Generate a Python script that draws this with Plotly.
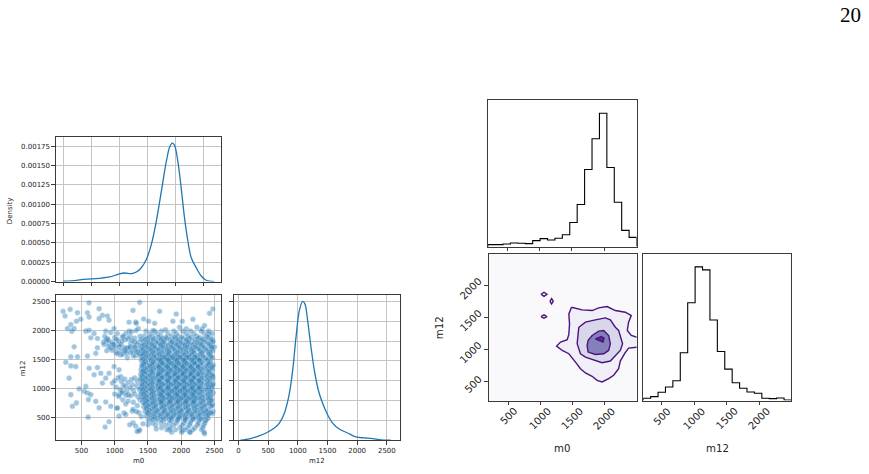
import numpy as np
import plotly.graph_objects as go

# ------------------------------------------------------------------ data
# KDE of m0 (pairplot diagonal, top-left)
kde_m0_x = [0, 237, 355, 504, 652, 829, 977, 1096, 1214, 1303, 1392, 1481, 1570, 1659,
            1748, 1836, 1896, 1943, 1985, 2044, 2103, 2162, 2222, 2281, 2370, 2459, 2547, 2695]
kde_m0_y = [0.0000043, 0.0000171, 0.0000299, 0.0000341, 0.0000427, 0.0000598, 0.0000939,
            0.000111, 0.0001024, 0.0001238, 0.0001793, 0.000286, 0.000478, 0.000777,
            0.001161, 0.001545, 0.001737, 0.001788, 0.001759, 0.001545, 0.001204, 0.000820,
            0.000521, 0.000307, 0.000179, 0.0000726, 0.0000171, 0.0]

# KDE of m12 (pairplot diagonal, bottom-right)
kde_m12_x = [34, 185, 325, 465, 605, 689, 774, 858, 914, 970, 1026, 1082, 1121, 1166, 1222,
             1278, 1345, 1418, 1502, 1586, 1698, 1839, 1979, 2119, 2259, 2399, 2567]
kde_m12_y = [0.0, 0.0000133, 0.00004, 0.0000733, 0.000123, 0.000173, 0.000273, 0.000473,
             0.000707, 0.00104, 0.001307, 0.0014, 0.001373, 0.001207, 0.00094, 0.000707,
             0.000507, 0.000373, 0.000257, 0.000173, 0.000113, 0.0000733, 0.0000333,
             0.0000233, 0.0000167, 0.0000033, 0.0]

# scatter m0 vs m12 : scattered points
sparse_m0 = [614, 224, 330, 254, 440, 489, 424, 590, 615, 765, 815, 890, 915, 765, 340, 290, 390,
             354, 565, 615, 690, 740, 640, 865, 940, 990, 1040, 890, 915, 990, 1065, 1115, 1165,
             1215, 1275, 1315, 1355, 1140, 1215, 1290, 1090, 1190, 1315, 1390, 740, 715, 590,
             390, 340, 440, 264, 340, 314, 414, 615, 740, 790, 690, 865, 915, 990, 1065, 1090,
             965, 815, 565, 465, 540, 590, 640, 340, 364, 424, 715, 604, 765, 865, 940, 600,
             915, 855, 1065, 1115, 1165, 1265, 1205, 1040, 1140, 1265, 1365, 1065, 1165, 1365,
             1275, 1315, 1415,
             830, 870, 905, 960, 1010, 1050, 1100, 1130, 1160, 1190, 1240, 1270, 1300, 1330,
             1350, 1000, 1080, 1230, 1180, 1120, 1280, 1350, 1390, 1380, 1020, 960, 880, 850,
             1250, 1320,
             840, 900, 940, 980, 1030, 1070, 1110, 1150, 1200, 1230, 1260, 1300, 1320, 1360,
             1400, 1040, 1160, 1240, 1300, 1370,
             1000, 1050, 1100, 1150, 1200, 1250, 1300, 1340, 1380, 1020, 1080, 1130, 1180, 1230,
             1280, 1330, 1370, 1000, 1060, 1110, 1170, 1240, 1300, 1350, 1390, 1120, 1200, 1280,
             1340, 1380,
             1375, 1215, 1325, 1435, 1510, 1600, 1675, 1875, 1925, 2015, 2175, 2425, 2475, 1765,
             1575, 2350, 2315, 2235, 2075, 1975, 2415, 2500,
             2475, 2465, 2435, 2415, 2375, 2350, 2125, 2015, 1825, 1625, 1500, 1425, 1375, 1035,
             1165, 1275, 1325, 1400, 1225, 1335]
sparse_m12 = [2482, 2333, 2367, 2253, 2310, 2196, 2161, 2310, 2236, 2379, 2264, 2253, 2178, 2207,
              2104, 2035, 2035, 1990, 1990, 2007, 1950, 1864, 1875, 1990, 1967, 2035, 1950, 1864,
              1778, 1749, 1761, 1892, 1950, 1990, 2350, 2150, 2035, 1663, 1692, 1703, 1577, 1531,
              1566, 1548, 1703, 1606, 1560, 1720, 1548, 1548, 1451, 1388, 1176, 1377, 1348, 1360,
              1262, 1234, 1176, 1262, 1377, 1320, 1205, 1090, 1090, 1033, 993, 947, 919, 890, 890,
              690, 747, 775, 804, 661, 764, 690, 500, 420, 329, 890, 947, 1033, 1062, 890, 661,
              575, 603, 575, 518, 546, 260, 403, 346, 1291,
              1800, 1830, 1720, 1800, 1700, 1820, 1760, 1900, 1840, 1700, 1780, 1640, 1870, 1760,
              1680, 1880, 1650, 1900, 1610, 1590, 1560, 1620, 1730, 1900, 1620, 1660, 1650, 1900,
              1980, 2000,
              1760, 1840, 1700, 1760, 1850, 1720, 1820, 1700, 1860, 1720, 1830, 1720, 1640, 1800,
              1850, 1600, 1640, 1620, 1800, 1600,
              1130, 1180, 1120, 1160, 1100, 1150, 1180, 1120, 1160, 1020, 980, 1050, 950, 1010,
              960, 1040, 980, 900, 860, 920, 880, 870, 900, 850, 900, 800, 780, 760, 700, 800,
              2489, 2145, 2128, 2202, 2162, 2128, 2334, 2162, 2288, 2162, 2196, 2299, 2374, 2013,
              2001, 2087, 2030, 2059, 2030, 2059, 1944, 1715,
              1199, 1027, 798, 569, 454, 214, 242, 271, 283, 294, 368, 386, 283, 655, 729, 638,
              598, 512, 368, 254]

# scatter m0 vs m12 : the dense cluster, one list of m0 values per m12 row
cluster_m12 = [1990, 1948, 1905, 1862, 1818, 1776, 1735, 1692, 1650, 1608, 1566, 1524, 1483,
               1441, 1402, 1358, 1321, 1279, 1238, 1197, 1160, 1118, 1079, 1042, 998, 960, 921,
               879, 842, 801, 763, 719, 682, 641, 598, 561, 519, 482, 441, 399, 362, 318, 281, 239]
cluster_m0 = [
    [1470, 1600, 1705, 1890, 2020, 2140, 2300, 2410],
    [1530, 1640, 1800, 1925, 2070, 2190, 2345, 2465],
    [1445, 1570, 1690, 1850, 1955, 2105, 2225, 2390],
    [1490, 1595, 1720, 1785, 1910, 2030, 2115, 2255, 2335, 2455],
    [1425, 1540, 1655, 1750, 1870, 1945, 2070, 2160, 2290, 2385, 2480],
    [1465, 1555, 1650, 1720, 1840, 1915, 2010, 2095, 2200, 2280, 2405],
    [1410, 1505, 1585, 1690, 1765, 1870, 1950, 2050, 2125, 2240, 2315, 2445],
    [1440, 1535, 1615, 1700, 1800, 1875, 1980, 2060, 2170, 2245, 2360, 2460],
    [1400, 1485, 1565, 1645, 1740, 1815, 1910, 1985, 2095, 2175, 2290, 2375, 2475],
    [1435, 1505, 1605, 1675, 1770, 1845, 1935, 2015, 2120, 2195, 2305, 2415],
    [1410, 1495, 1575, 1635, 1725, 1795, 1890, 1955, 2055, 2125, 2240, 2325, 2445],
    [1445, 1525, 1615, 1685, 1780, 1845, 1925, 2005, 2075, 2180, 2255, 2365, 2470],
    [1400, 1465, 1555, 1625, 1715, 1785, 1875, 1945, 2040, 2105, 2210, 2285, 2395],
    [1430, 1515, 1585, 1675, 1735, 1825, 1895, 1990, 2055, 2160, 2235, 2340, 2425],
    [1410, 1485, 1565, 1635, 1725, 1795, 1885, 1955, 2045, 2115, 2215, 2295, 2405, 2480],
    [1445, 1520, 1605, 1675, 1765, 1835, 1925, 1995, 2085, 2155, 2255, 2345, 2455],
    [1395, 1480, 1545, 1635, 1705, 1795, 1865, 1955, 2025, 2115, 2185, 2285, 2375, 2470],
    [1420, 1505, 1575, 1665, 1735, 1825, 1895, 1985, 2055, 2145, 2225, 2325, 2425],
    [1390, 1465, 1535, 1625, 1695, 1785, 1855, 1945, 2015, 2105, 2175, 2275, 2355, 2465],
    [1425, 1495, 1585, 1645, 1735, 1805, 1895, 1965, 2055, 2125, 2215, 2305, 2405],
    [1400, 1475, 1545, 1635, 1705, 1795, 1865, 1955, 2025, 2115, 2185, 2285, 2365, 2475],
    [1435, 1505, 1595, 1665, 1755, 1825, 1915, 1985, 2075, 2145, 2245, 2325, 2435],
    [1400, 1485, 1555, 1645, 1715, 1805, 1875, 1965, 2035, 2125, 2195, 2295, 2385, 2480],
    [1420, 1495, 1585, 1655, 1745, 1815, 1905, 1975, 2065, 2135, 2235, 2315, 2425],
    [1390, 1475, 1545, 1635, 1705, 1795, 1865, 1955, 2025, 2115, 2185, 2285, 2365, 2460],
    [1430, 1515, 1585, 1675, 1745, 1835, 1905, 1995, 2065, 2155, 2235, 2335, 2435],
    [1405, 1475, 1565, 1635, 1725, 1795, 1885, 1955, 2045, 2115, 2205, 2285, 2395, 2480],
    [1445, 1525, 1595, 1685, 1755, 1845, 1915, 2005, 2075, 2165, 2245, 2355, 2450],
    [1410, 1495, 1565, 1655, 1725, 1815, 1885, 1975, 2045, 2135, 2205, 2305, 2400],
    [1455, 1525, 1615, 1685, 1775, 1845, 1935, 2005, 2095, 2165, 2265, 2355, 2460],
    [1420, 1505, 1575, 1665, 1735, 1825, 1895, 1985, 2055, 2145, 2215, 2315, 2415],
    [1465, 1545, 1615, 1705, 1775, 1865, 1935, 2025, 2095, 2185, 2275, 2375, 2470],
    [1435, 1525, 1605, 1705, 1785, 1885, 1965, 2065, 2145, 2245, 2335, 2445],
    [1485, 1565, 1665, 1745, 1845, 1925, 2025, 2105, 2205, 2295, 2405],
    [1455, 1555, 1645, 1745, 1825, 1925, 2005, 2105, 2185, 2295, 2385, 2480],
    [1505, 1595, 1705, 1795, 1895, 1975, 2075, 2155, 2265, 2355, 2465],
    [1475, 1585, 1685, 1795, 1875, 1975, 2055, 2165, 2255, 2385],
    [1535, 1645, 1765, 1855, 1965, 2055, 2175, 2275, 2405],
    [1505, 1625, 1735, 1855, 1945, 2055, 2145, 2265, 2365],
    [1565, 1695, 1825, 1925, 2045, 2135, 2255, 2355],
    [1615, 1765, 1885, 2015, 2125, 2245, 2335],
    [1705, 1835, 1985, 2095, 2205, 2325],
    [1785, 1915, 2055, 2175, 2305],
    [1855, 2005, 2135, 2345],
]
# second pass over the cluster (rows in between the first ones)
cluster2_m12 = [1884, 1840, 1797, 1755, 1714, 1671, 1629, 1587, 1545, 1503, 1462, 1421, 1380,
                1340, 1300, 1258, 1218, 1178, 1138, 1098, 1060, 1020, 979, 940, 900, 860, 821,
                782, 740, 700, 660, 620, 580, 540, 500, 460]
cluster2_m0 = [
    [1520, 1660, 1770, 1900, 2010, 2150, 2270, 2400],
    [1460, 1580, 1700, 1830, 1960, 2080, 2210, 2320, 2450],
    [1500, 1620, 1730, 1860, 1990, 2110, 2240, 2350, 2470],
    [1440, 1560, 1690, 1800, 1930, 2050, 2170, 2300, 2420],
    [1480, 1600, 1730, 1850, 1970, 2090, 2210, 2340, 2460],
    [1420, 1540, 1660, 1790, 1900, 2030, 2150, 2270, 2400],
    [1460, 1580, 1710, 1820, 1950, 2070, 2190, 2320, 2440],
    [1430, 1550, 1670, 1800, 1910, 2040, 2160, 2280, 2410],
    [1470, 1590, 1710, 1840, 1960, 2080, 2200, 2330, 2450],
    [1420, 1540, 1660, 1780, 1900, 2020, 2150, 2270, 2390],
    [1460, 1580, 1700, 1820, 1940, 2060, 2190, 2310, 2440],
    [1440, 1560, 1680, 1800, 1920, 2040, 2160, 2290, 2410],
    [1410, 1530, 1650, 1770, 1890, 2010, 2130, 2250, 2380, 2470],
    [1460, 1580, 1700, 1820, 1940, 2060, 2180, 2310, 2430],
    [1430, 1550, 1670, 1790, 1910, 2030, 2150, 2270, 2400],
    [1450, 1570, 1690, 1810, 1930, 2050, 2170, 2300, 2420],
    [1410, 1530, 1650, 1770, 1890, 2010, 2130, 2250, 2380, 2470],
    [1460, 1580, 1700, 1820, 1940, 2060, 2190, 2310, 2430],
    [1420, 1540, 1660, 1780, 1900, 2020, 2140, 2260, 2390],
    [1450, 1570, 1690, 1810, 1930, 2050, 2170, 2300, 2420],
    [1410, 1530, 1650, 1770, 1890, 2010, 2140, 2260, 2380, 2470],
    [1450, 1570, 1690, 1810, 1930, 2050, 2170, 2290, 2420],
    [1420, 1540, 1660, 1780, 1900, 2020, 2150, 2270, 2390],
    [1460, 1580, 1700, 1820, 1940, 2060, 2180, 2310, 2440],
    [1430, 1550, 1670, 1790, 1910, 2030, 2150, 2270, 2400],
    [1470, 1590, 1710, 1830, 1950, 2070, 2190, 2320, 2440],
    [1440, 1560, 1680, 1800, 1920, 2040, 2160, 2280, 2410],
    [1480, 1600, 1720, 1840, 1960, 2080, 2200, 2330, 2450],
    [1450, 1570, 1690, 1810, 1930, 2050, 2170, 2290, 2420],
    [1500, 1620, 1740, 1860, 1980, 2100, 2220, 2350, 2460],
    [1470, 1590, 1710, 1830, 1950, 2070, 2190, 2310],
    [1520, 1640, 1760, 1880, 2000, 2120, 2240, 2370],
    [1490, 1610, 1730, 1850, 1970, 2090, 2210, 2330, 2440],
    [1540, 1670, 1790, 1910, 2030, 2150, 2280, 2400],
    [1600, 1730, 1850, 1970, 2090, 2210, 2330],
    [1570, 1700, 1820, 1940, 2060, 2180, 2300],
]
core_m12 = [1540, 1490, 1430, 1370, 1310, 1250, 1190, 1130, 1070, 1010, 950, 890, 830, 770]
core_m0 = [
    [1745, 1870, 1985, 2110, 2215],
    [1690, 1805, 1935, 2045, 2165, 2270],
    [1720, 1850, 1965, 2085, 2205],
    [1670, 1795, 1915, 2030, 2150, 2255],
    [1725, 1845, 1975, 2080, 2200],
    [1660, 1790, 1905, 2025, 2140, 2250],
    [1710, 1830, 1955, 2070, 2190],
    [1670, 1800, 1915, 2040, 2160, 2265],
    [1715, 1845, 1965, 2085, 2205],
    [1685, 1805, 1930, 2050, 2170, 2260],
    [1725, 1860, 1980, 2100, 2215],
    [1695, 1815, 1940, 2060, 2180],
    [1735, 1865, 1990, 2110, 2220],
    [1700, 1830, 1950, 2075, 2190],
]

# corner plot: 1-D histograms (20 bins over the data range)
m0_range = [200, 2501]
m12_range = [210, 2500]
m0_counts = [6, 6, 8, 11, 10, 9, 18, 24, 20, 25, 36, 73, 127, 233, 326, 403, 239, 134, 49, 28]
m12_counts = [7, 12, 25, 41, 60, 144, 295, 403, 394, 243, 148, 95, 54, 37, 26, 22, 7, 6, 8, 2]

# corner plot: 2-D density contours (outermost -> innermost), in data units
contour_outer_m0 = [1488, 1653, 1809, 1912, 2041, 2171, 2326, 2419, 2377, 2357, 2419, 2533, 2533,
                    2377, 2315, 2248, 2222, 2145, 2067, 1964, 1886, 1809, 1705, 1627, 1550, 1446,
                    1343, 1255, 1317, 1421, 1446, 1457, 1446, 1488]
contour_outer_m12 = [1664, 1622, 1612, 1653, 1674, 1612, 1586, 1535, 1431, 1302, 1224, 1188, 1043,
                     1028, 940, 826, 707, 604, 552, 500, 526, 588, 640, 707, 810, 940, 991, 1059,
                     1121, 1157, 1240, 1405, 1560, 1664]
contour_mid_m0 = [1602, 1705, 1860, 2015, 2093, 2171, 2222, 2248, 2284, 2248, 2171, 2093, 1964,
                  1860, 1705, 1627, 1576, 1591, 1602]
contour_mid_m12 = [1353, 1431, 1467, 1498, 1467, 1353, 1302, 1198, 1095, 991, 914, 826, 800, 836,
                   888, 940, 1095, 1250, 1353]
contour_inner_m0 = [1746, 1809, 1912, 1990, 2067, 2093, 2067, 1990, 1860, 1746, 1731, 1746]
contour_inner_m12 = [1147, 1224, 1291, 1302, 1224, 1095, 991, 940, 929, 966, 1069, 1147]
contour_core_m0 = [1860, 1953, 1995, 1979, 1912, 1860]
contour_core_m12 = [1172, 1209, 1183, 1121, 1147, 1172]
island_m0 = [[1012, 1059, 1105, 1059, 1012], [1152, 1178, 1203, 1178, 1152],
             [1012, 1059, 1105, 1059, 1012]]
island_m12 = [[1866, 1897, 1866, 1834, 1866], [1757, 1798, 1757, 1716, 1757],
              [1519, 1545, 1519, 1493, 1519]]

grid_ticks = [0, 500, 1000, 1500, 2000, 2500]
scatter_ticks = [500, 1000, 1500, 2000, 2500]
corner_ticks = [500, 1000, 1500, 2000]
density_ticks = [0, 0.00025, 0.0005, 0.00075, 0.001, 0.00125, 0.0015, 0.00175]
page_number = "20"

# ------------------------------------------------------------------ layout helpers
W, H = 869, 474


def dx(l, r):
    return [l / W, r / W]


def dy(t, b):
    return [1 - b / H, 1 - t / H]


BLUE = "#1f77b4"
SPINE = "#3a3a3a"
GRID = "#c4c4c4"
SMALL = dict(family="DejaVu Sans", size=7.0, color="#222")
BIG = dict(family="DejaVu Sans", size=10.2, color="#222")

fig = go.Figure()

# pairplot ---------------------------------------------------------------
fig.add_trace(go.Scatter(x=kde_m0_x, y=kde_m0_y, mode="lines",
                         line=dict(color=BLUE, width=1.3, shape="spline", smoothing=0.9),
                         xaxis="x", yaxis="y", showlegend=False, hoverinfo="skip"))

sc_x = list(sparse_m0)
sc_y = list(sparse_m12)
for rows_y, rows_x in [(cluster_m12, cluster_m0), (cluster2_m12, cluster2_m0),
                       (core_m12, core_m0)]:
    for yv, row in zip(rows_y, rows_x):
        sc_x += row
        sc_y += [yv] * len(row)
fig.add_trace(go.Scatter(x=sc_x, y=sc_y, mode="markers",
                         marker=dict(size=5.6, color=BLUE, opacity=0.42,
                                     line=dict(color="white", width=0.4)),
                         xaxis="x2", yaxis="y2", showlegend=False, hoverinfo="skip"))

fig.add_trace(go.Scatter(x=kde_m12_x, y=kde_m12_y, mode="lines",
                         line=dict(color=BLUE, width=1.3, shape="spline", smoothing=0.9),
                         xaxis="x3", yaxis="y3", showlegend=False, hoverinfo="skip"))

# corner -----------------------------------------------------------------


def step_xy(counts, rng):
    edges = np.linspace(rng[0], rng[1], len(counts) + 1)
    xs = [edges[0]] + list(edges[:-1]) + [edges[-1]]
    ys = [0] + list(counts) + [0]
    return xs, ys


hx, hy = step_xy(m0_counts, m0_range)
fig.add_trace(go.Scatter(x=hx, y=hy, mode="lines", line=dict(color="black", width=1.1, shape="hv"),
                         xaxis="x4", yaxis="y4", showlegend=False, hoverinfo="skip"))
hx, hy = step_xy(m12_counts, m12_range)
fig.add_trace(go.Scatter(x=hx, y=hy, mode="lines", line=dict(color="black", width=1.1, shape="hv"),
                         xaxis="x6", yaxis="y6", showlegend=False, hoverinfo="skip"))

LINE_P = "#4b137f"
for cx, cy, fc in [(contour_outer_m0, contour_outer_m12, "#f0eef6"),
                   (contour_mid_m0, contour_mid_m12, "#d8d7e9"),
                   (contour_inner_m0, contour_inner_m12, "#857fba"),
                   (contour_core_m0, contour_core_m12, "#55288f")]:
    fig.add_trace(go.Scatter(x=cx, y=cy, mode="lines", fill="toself", fillcolor=fc,
                             line=dict(color=LINE_P, width=1.4),
                             xaxis="x5", yaxis="y5", showlegend=False, hoverinfo="skip"))
for ix, iy in zip(island_m0, island_m12):
    fig.add_trace(go.Scatter(x=ix, y=iy, mode="lines", fill="toself", fillcolor="#f0eef6",
                             line=dict(color=LINE_P, width=1.4),
                             xaxis="x5", yaxis="y5", showlegend=False, hoverinfo="skip"))

# axes -------------------------------------------------------------------
base = dict(showline=True, mirror=True, linecolor=SPINE, linewidth=0.9, ticks="outside",
            ticklen=3.5, tickwidth=0.8, tickcolor=SPINE, zeroline=False, tickfont=SMALL,
            fixedrange=True)


def ax(grid, **kw):
    d = dict(base)
    d.update(showgrid=grid)
    if grid:
        d.update(gridcolor=GRID, gridwidth=0.8)
    d.update(kw)
    return d


lay = dict(
    width=W, height=H, margin=dict(l=0, r=0, t=0, b=0),
    paper_bgcolor="white", plot_bgcolor="white", showlegend=False,
    xaxis=ax(True, domain=dx(56, 222), anchor="y", range=[-130, 2820],
             tickvals=grid_ticks, showticklabels=False),
    yaxis=ax(True, domain=dy(138, 284), anchor="x", range=[0, 0.001869],
             tickvals=density_ticks, tickformat=".5f"),
    xaxis2=ax(True, domain=dx(56, 222), anchor="y2", range=[115, 2605],
              tickvals=scatter_ticks),
    yaxis2=ax(True, domain=dy(298, 444), anchor="x2", range=[100, 2608],
              tickvals=scatter_ticks),
    xaxis3=ax(True, domain=dx(234.3, 400.7), anchor="y3", range=[-79, 2718],
              tickvals=grid_ticks),
    yaxis3=ax(True, domain=dy(297.3, 444), anchor="x3", range=[0, 0.001467],
              dtick=0.0002, tick0=0, showticklabels=False),
    xaxis4=ax(False, domain=dx(489.3, 638), anchor="y4", range=m0_range,
              tickvals=corner_ticks, showticklabels=False),
    yaxis4=ax(False, domain=dy(100.7, 248.7), anchor="x4",
              range=[0, 1.1 * max(m0_counts)], showticklabels=False, ticks=""),
    xaxis5=ax(False, domain=dx(490, 638), anchor="y5", range=m0_range,
              tickvals=corner_ticks, showticklabels=False),
    yaxis5=ax(False, domain=dy(255.7, 404), anchor="x5", range=m12_range,
              tickvals=corner_ticks, showticklabels=False),
    xaxis6=ax(False, domain=dx(644.7, 793.3), anchor="y6", range=m12_range,
              tickvals=corner_ticks, showticklabels=False),
    yaxis6=ax(False, domain=dy(255.7, 404), anchor="x6",
              range=[0, 1.1 * max(m12_counts)], showticklabels=False, ticks=""),
)
fig.update_layout(**lay)

# contour panel background
fig.add_shape(type="rect", xref="x5 domain", yref="y5 domain", x0=0, x1=1, y0=0, y1=1,
              fillcolor="#f9f8fb", line=dict(width=0), layer="below")

ann = []


def label(text, px, py, font, angle=0):
    return dict(text=text, x=px / W, y=1 - py / H, xref="paper", yref="paper",
                xanchor="center", yanchor="middle", textangle=angle,
                showarrow=False, font=font)


# pairplot axis titles
ann.append(label("Density", 10, 212, SMALL, -90))
ann.append(label("m12", 22.5, 371, SMALL, -90))
ann.append(label("m0", 139, 465, SMALL))
ann.append(label("m12", 317.5, 465, SMALL))
# corner axis titles
ann.append(label("m12", 440, 330, BIG, -90))
ann.append(label("m0", 563.5, 452.5, BIG))
ann.append(label("m12", 719, 452.5, BIG))


def half_diag(lab):
    w = len(lab) * 0.636 * BIG["size"]
    h = 1.0 * BIG["size"]
    return (w + h) * 0.7071 / 2


# corner rotated tick labels
for t in corner_ticks:
    lab = str(t)
    off = 5 + half_diag(lab)
    ann.append(dict(text=lab, x=t, y=0, xref="x5", yref="y5 domain", textangle=-45,
                    showarrow=False, font=BIG, xanchor="center", yanchor="middle",
                    yshift=-off))
    ann.append(dict(text=lab, x=t, y=0, xref="x6", yref="y6 domain", textangle=-45,
                    showarrow=False, font=BIG, xanchor="center", yanchor="middle",
                    yshift=-off))
    ann.append(dict(text=lab, x=0, y=t, xref="x5 domain", yref="y5", textangle=-45,
                    showarrow=False, font=BIG, xanchor="center", yanchor="middle",
                    xshift=-off, yshift=-3))

# page number
ann.append(label(page_number, 852, 15, dict(family="Liberation Serif", size=21, color="black")))

fig.update_layout(annotations=ann)
fig.write_html("out.html")
